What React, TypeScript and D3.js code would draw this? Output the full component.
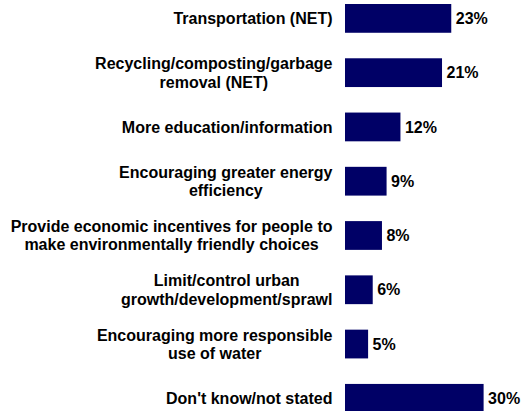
import * as d3 from "d3";
import { useEffect, useRef } from "react";

const categories = [
	"Transportation (NET)",
	"Recycling/composting/garbage\nremoval (NET)",
	"More education/information",
	"Encouraging greater energy\nefficiency",
	"Provide economic incentives for people to\nmake environmentally friendly choices",
	"Limit/control urban\ngrowth/development/sprawl",
	"Encouraging more responsible\nuse of water",
	"Don't know/not stated",
];

const values = [23, 21, 12, 9, 8, 6, 5, 30];

const valueLabels = ["23%", "21%", "12%", "9%", "8%", "6%", "5%", "30%"];

const width = 522;
const height = 411;

export default function App() {
	const ref = useRef<SVGSVGElement | null>(null);

	useEffect(() => {
		if (!ref.current) return;
		const svg = d3.select(ref.current);
		svg.selectAll("*").remove();

		const fontSize = 16;
		const lineHeight = 18.5;
		const labelRight = 332.5;
		const barLeft = 345;

		const y = d3
			.scaleBand<number>()
			.domain(d3.range(categories.length))
			.range([4, 412.7])
			.paddingInner(0.47)
			.paddingOuter(0);

		const x = d3.scaleLinear().domain([0, 30]).range([0, 138.6]);

		const g = svg
			.append("g")
			.attr("font-family", "'Liberation Sans', Arial, sans-serif")
			.attr("font-weight", "bold")
			.attr("font-size", fontSize);

		g.selectAll("rect")
			.data(values)
			.join("rect")
			.attr("x", barLeft)
			.attr("y", (_, i) => y(i) ?? 0)
			.attr("width", (d) => x(d))
			.attr("height", y.bandwidth())
			.attr("fill", "#000066");

		// half the cap height, to centre text on the bar
		const capShift = (fontSize * 0.716) / 2;

		g.selectAll("text.value")
			.data(values)
			.join("text")
			.attr("class", "value")
			.attr("x", (d) => barLeft + x(d) + 4.5)
			.attr("y", (_, i) => (y(i) ?? 0) + y.bandwidth() / 2 + capShift)
			.attr("fill", "#000")
			.text((_, i) => valueLabels[i]);

		categories.forEach((cat, i) => {
			const lines = cat.split("\n");
			const cy = (y(i) ?? 0) + y.bandwidth() / 2;
			const text = g.append("text").attr("fill", "#000").attr("text-anchor", "middle");
			const spans = lines.map((line, j) =>
				text
					.append("tspan")
					.attr("y", cy + (j - (lines.length - 1) / 2) * lineHeight + capShift)
					.text(line),
			);
			const maxW = d3.max(spans, (s) => (s.node() as SVGTSpanElement).getComputedTextLength()) ?? 0;
			spans.forEach((s) => s.attr("x", labelRight - maxW / 2));
		});
	}, []);

	return (
		<svg
			ref={ref}
			width={width}
			height={height}
			style={{ position: "absolute", left: 0, top: 0, background: "#fff" }}
		></svg>
	);
}
